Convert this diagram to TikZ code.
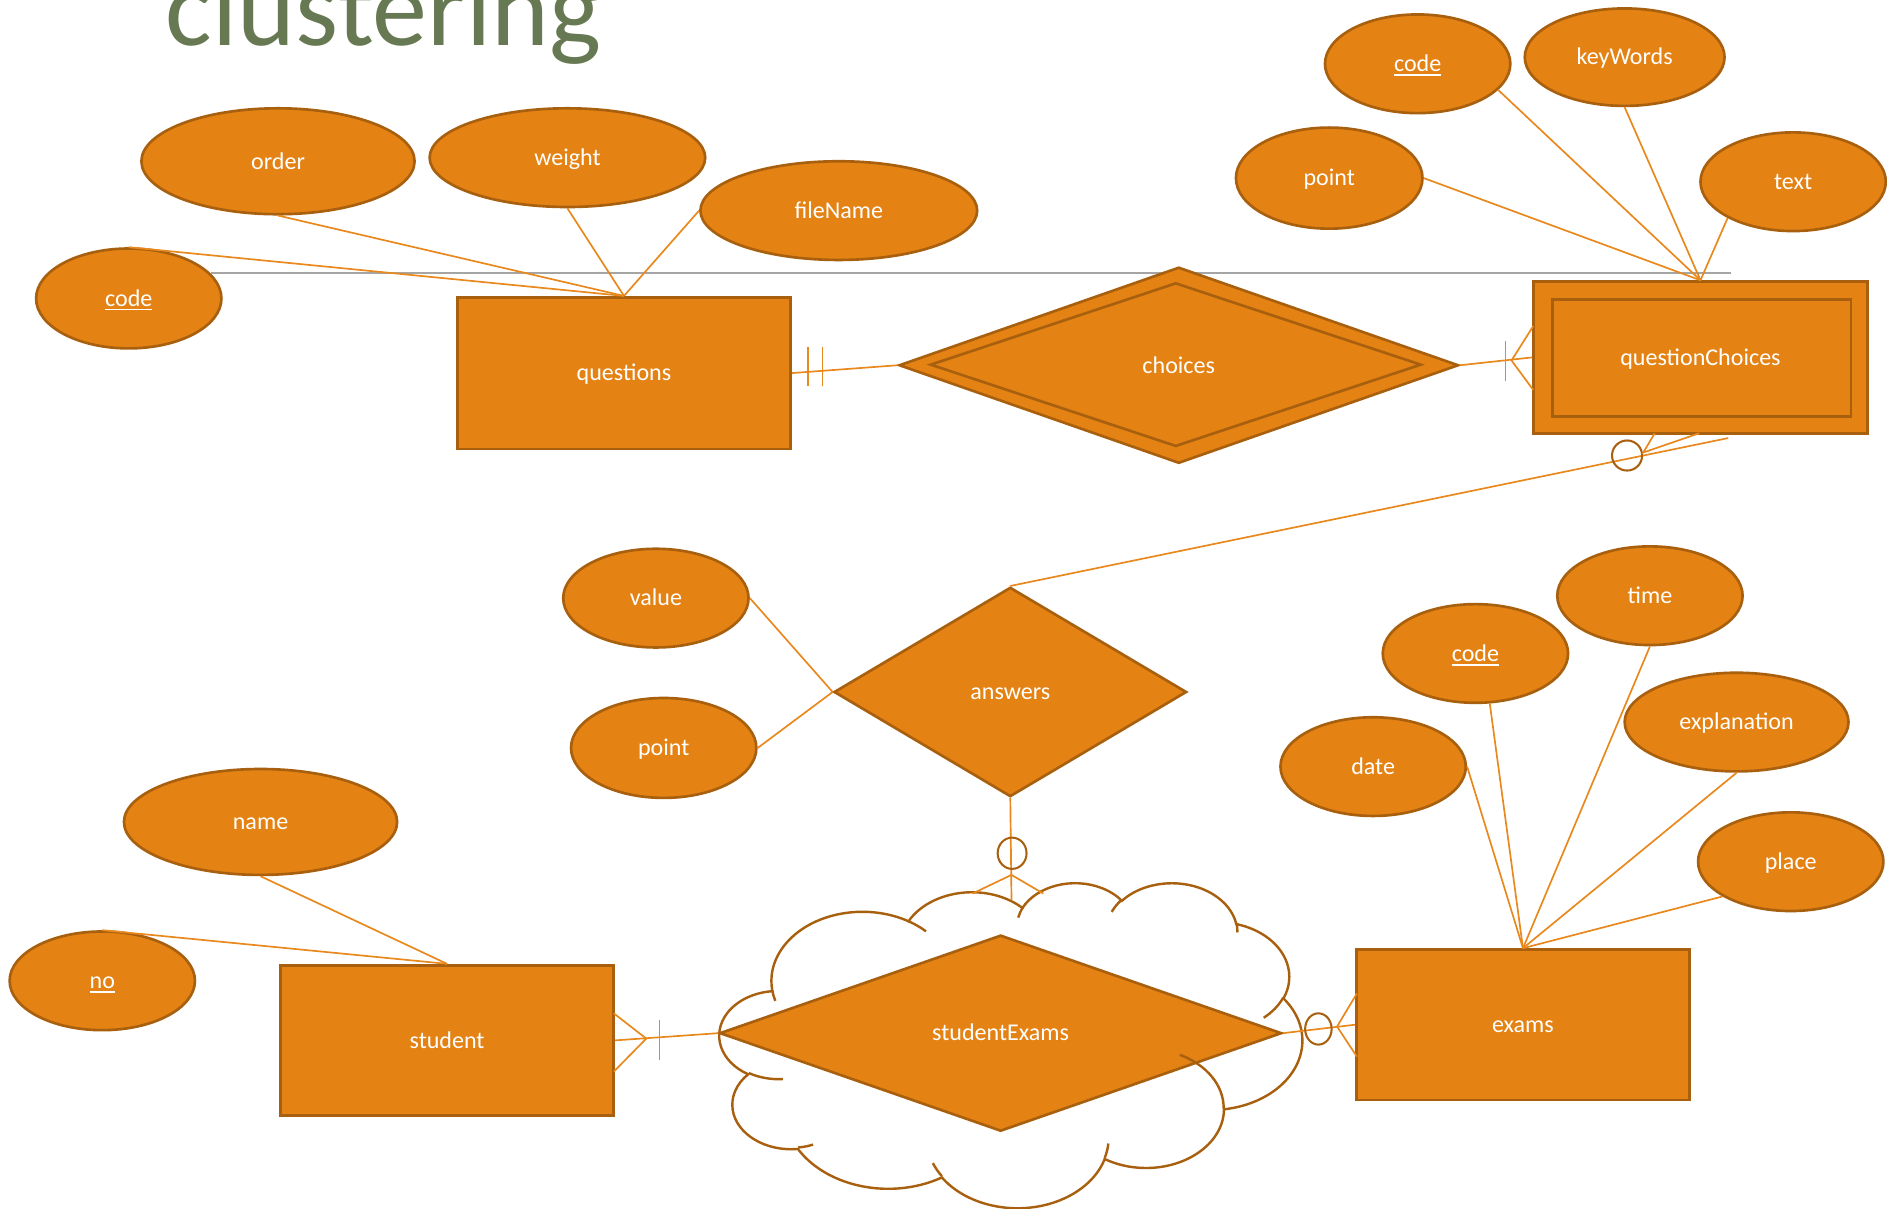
\documentclass[tikz,border=0pt]{standalone}
\usepackage{fontspec}
\setmainfont{Carlito}
\usetikzlibrary{shapes.geometric,calc}

\definecolor{erorange}{RGB}{228,130,19}
\definecolor{erbrown}{RGB}{168,96,14}
\definecolor{erline}{RGB}{233,136,28}
\definecolor{titlegreen}{RGB}{103,121,82}
\definecolor{rulegray}{RGB}{165,165,165}

% key attribute: text with a rule under it
\newcommand\keyattr[1]{\setbox0=\hbox{#1}\rlap{\smash{\rule[-3.5pt]{\wd0}{1.2pt}}}\box0}

% elliptical arc given by radii, start angle and sweep measured as
% directions from the centre; stores parametric start and sweep
\newcommand\cloudang[5]{%
  \pgfmathsetmacro\cldA{atan2((#2)*sin(#4),(#3)*cos(#4))}%
  \pgfmathsetmacro\cldB{atan2((#2)*sin((#4)+(#5)),(#3)*cos((#4)+(#5)))}%
  \pgfmathsetmacro\cldD{mod(\cldB-\cldA+720,360)}%
  \expandafter\let\csname cldst#1\endcsname\cldA
  \expandafter\let\csname cldsw#1\endcsname\cldD}

\begin{document}
\begin{tikzpicture}[x=1pt,y=-1pt,
  every node/.style={font=\fontsize{20}{24}\selectfont, text=white, inner sep=0pt},
  lbl/.style={text height=16pt, text depth=3pt},
  attr/.style={lbl, ellipse, draw=erbrown, fill=erorange, line width=2.2pt},
  entity/.style={lbl, rectangle, draw=erbrown, fill=erorange, line width=2.2pt},
  rel/.style={lbl, diamond, draw=erbrown, fill=erorange, line width=2.2pt},
  conn/.style={draw=erline, line width=1.4pt},
  ring/.style={ellipse, draw=erbrown, line width=1.7pt},
  cloudline/.style={draw=erbrown, line width=2pt},
  rulestroke/.style={draw=rulegray, line width=1.3pt}]

\useasboundingbox (0,0) rectangle (1568,1004);
\clip (0,0) rectangle (1568,1004);
\fill[white] (0,0) rectangle (1568,1004);

% heading
\node[anchor=base west, text=titlegreen, font=\fontsize{91.5}{100}\selectfont] (title) at (137.5,38) {clustering};

% thin rule
\draw[rulestroke] (175,227) -- (1438,227);

% ---------------- questions ----------------
\node[entity, minimum width=277pt, minimum height=126pt] (questions) at (518.5,310) {questions};
\node[attr, minimum width=227pt, minimum height=88pt] (order) at (231,134) {order};
\node[attr, minimum width=229pt, minimum height=82pt] (weight) at (471.5,131) {weight};
\node[attr, minimum width=230pt, minimum height=82pt] (fname) at (697,175) {fileName};
\node[attr, minimum width=154pt, minimum height=83pt] (qcode) at (107,248) {\keyattr{code}};

% ---------------- choices ----------------
\node[rel, minimum width=465pt, minimum height=163pt] (choices) at (979.5,303.5) {choices};
\node[rel, fill=none, minimum width=408pt, minimum height=136pt] (choicesin) at (977,303) {};

% ---------------- questionChoices ----------------
\node[entity, minimum width=278pt, minimum height=126pt] (qc) at (1413,297) {questionChoices};
\node[entity, fill=none, minimum width=248pt, minimum height=97pt] (qcin) at (1414,297.5) {};
\node[attr, minimum width=154pt, minimum height=82pt] (qccode) at (1178,53) {\keyattr{code}};
\node[attr, minimum width=166pt, minimum height=81pt] (keywords) at (1350,47.5) {keyWords};
\node[attr, minimum width=155pt, minimum height=84pt] (qcpoint) at (1104.5,148) {point};
\node[attr, minimum width=154pt, minimum height=82pt] (qctext) at (1490,151) {text};

% ---------------- answers ----------------
\node[rel, minimum width=293pt, minimum height=174pt] (answers) at (839.5,575) {answers};
\node[attr, minimum width=154pt, minimum height=82pt] (value) at (545,497) {value};
\node[attr, minimum width=154pt, minimum height=83pt] (apoint) at (551.5,621.5) {point};

% ---------------- exams ----------------
\node[entity, minimum width=277pt, minimum height=125pt] (exams) at (1265.5,851.5) {exams};
\node[attr, minimum width=154pt, minimum height=82pt] (ecode) at (1226,543) {\keyattr{code}};
\node[attr, minimum width=154pt, minimum height=82pt] (time) at (1371,495) {time};
\node[attr, minimum width=186pt, minimum height=82pt] (expl) at (1443,600) {explanation};
\node[attr, minimum width=154pt, minimum height=82pt] (date) at (1141,637) {date};
\node[attr, minimum width=154pt, minimum height=82pt] (place) at (1488,716) {place};

% ---------------- student ----------------
\node[entity, minimum width=277pt, minimum height=125pt] (student) at (371.5,864.5) {student};
\node[attr, minimum width=227pt, minimum height=88pt] (name) at (216.5,683) {name};
\node[attr, minimum width=154pt, minimum height=82pt] (no) at (85,815) {\keyattr{no}};

% ---------------- studentExams ----------------
\node[rel, minimum width=467pt, minimum height=163pt] (se) at (831.5,858.5) {studentExams};

% cloud outline around studentExams (43200-unit shape box scaled by 1/100)
\cloudang{A}{67.53}{91.90}{-190.4875}{123.7805}
\cloudang{B}{53.33}{72.67}{-144.1024}{89.9452}
\cloudang{C}{43.65}{59.45}{-145.8079}{99.7230}
\cloudang{D}{48.57}{65.95}{-130.9861}{117.2417}
\cloudang{E}{53.33}{72.73}{-78.7089}{109.0269}
\cloudang{F}{67.75}{92.20}{-46.2673}{130.2690}
\cloudang{G}{57.85}{78.67}{0.6250}{114.0333}
\cloudang{H}{67.52}{92.15}{22.4516}{115.1726}
\cloudang{I}{77.20}{105.43}{66.2426}{75.7110}
\cloudang{J}{43.60}{59.18}{-274.9421}{146.7356}
\cloudang{K}{43.45}{59.45}{-246.8285}{152.5189}
\cloudang{L}{43.45}{59.45}{86.7420}{26.4295}
\cloudang{M}{43.60}{59.18}{73.6105}{11.4475}
\cloudang{N}{67.52}{92.15}{137.6242}{14.0811}
\cloudang{O}{67.52}{92.15}{6.4533}{15.9984}
\cloudang{P}{57.85}{78.67}{-70.2924}{70.9174}
\cloudang{Q}{53.33}{72.73}{30.3180}{27.7515}
\cloudang{R}{48.57}{65.95}{-13.7443}{14.8589}
\cloudang{S}{48.57}{65.95}{-149.1815}{18.1954}
\cloudang{T}{43.65}{59.45}{-163.4943}{17.6864}
\cloudang{U}{67.53}{91.90}{-66.7070}{12.3194}
\cloudang{V}{67.53}{91.90}{157.6544}{11.8582}
\begin{scope}[shift={(598,733)}, x=1.12037pt, y=-0.625pt]
  \draw[cloudline] (39.00,143.70)
    arc[start angle=\cldstA, delta angle=\cldswA, x radius=67.53, y radius=91.90]
    arc[start angle=\cldstB, delta angle=\cldswB, x radius=53.33, y radius=72.67]
    arc[start angle=\cldstC, delta angle=\cldswC, x radius=43.65, y radius=59.45]
    arc[start angle=\cldstD, delta angle=\cldswD, x radius=48.57, y radius=65.95]
    arc[start angle=\cldstE, delta angle=\cldswE, x radius=53.33, y radius=72.73]
    arc[start angle=\cldstF, delta angle=\cldswF, x radius=67.75, y radius=92.20]
    arc[start angle=\cldstG, delta angle=\cldswG, x radius=57.85, y radius=78.67]
    arc[start angle=\cldstH, delta angle=\cldswH, x radius=67.52, y radius=92.15]
    arc[start angle=\cldstI, delta angle=\cldswI, x radius=77.20, y radius=105.43]
    arc[start angle=\cldstJ, delta angle=\cldswJ, x radius=43.60, y radius=59.18]
    arc[start angle=\cldstK, delta angle=\cldswK, x radius=43.45, y radius=59.45]
    -- cycle;
  \draw[cloudline]
    (46.93,261.77) arc[start angle=\cldstL, delta angle=\cldswL, x radius=43.45, y radius=59.45]
    (69.28,348.99) arc[start angle=\cldstM, delta angle=\cldswM, x radius=43.60, y radius=59.18]
    (164.78,390.90) arc[start angle=\cldstN, delta angle=\cldswN, x radius=67.52, y radius=92.15]
    (288.27,347.51) arc[start angle=\cldstO, delta angle=\cldswO, x radius=67.52, y radius=92.15]
    (341.29,229.54) arc[start angle=\cldstP, delta angle=\cldswP, x radius=57.85, y radius=78.67]
    (417.98,153.54) arc[start angle=\cldstQ, delta angle=\cldswQ, x radius=53.33, y radius=72.73]
    (383.24,54.26) arc[start angle=\cldstR, delta angle=\cldswR, x radius=48.57, y radius=65.95]
    (290.78,39.52) arc[start angle=\cldstS, delta angle=\cldswS, x radius=48.57, y radius=65.95]
    (221.41,47.20) arc[start angle=\cldstT, delta angle=\cldswT, x radius=43.65, y radius=59.45]
    (140.00,51.92) arc[start angle=\cldstU, delta angle=\cldswU, x radius=67.53, y radius=91.90]
    (41.27,157.89) arc[start angle=\cldstV, delta angle=\cldswV, x radius=67.53, y radius=91.90];
\end{scope}

% ---------------- attribute links ----------------
\draw[conn] (qcode.north) -- (questions.north);
\draw[conn] (order.south) -- (questions.north);
\draw[conn] (weight.south) -- (questions.north);
\draw[conn] (fname.west) -- (questions.north);

\draw[conn] (qccode.-18) -- (qc.north);
\draw[conn] (keywords.south) -- (qc.north);
\draw[conn] (qcpoint.east) -- (qc.north);
\draw[conn] (qctext.-151) -- (qc.north);

\draw[conn] (value.east) -- (answers.west);
\draw[conn] (apoint.east) -- (answers.west);

\draw[conn] (ecode.-74) -- (exams.north);
\draw[conn] (time.south) -- (exams.north);
\draw[conn] (expl.south) -- (exams.north);
\draw[conn] (date.east) -- (exams.north);
\draw[conn] (place.-153) -- (exams.north);

\draw[conn] (name.south) -- (student.north);
\draw[conn] (no.north) -- (student.north);

% ---------------- relationship links ----------------
% questions || -- choices
\draw[conn] (questions.east) -- (choices.west);
\draw[conn] (671.5,288) -- (671.5,320.5) (683.5,288) -- (683.5,320.5);

% choices -- |< questionChoices
\draw[conn] (choices.east) -- (qc.west);
\draw[conn] (1251,283) -- (1251,317);
\draw[conn] (1274,271) -- (1256,299.5) -- (1274,324);

% answers -- o< questionChoices
\coordinate (qcend) at (1436,364);
\draw[conn] (answers.north) -- (qcend);
\node[ring, minimum width=25pt, minimum height=25pt] (ringqc) at (1352,378.5) {};
\draw[conn] (1375,360) -- (1365.5,376) -- (1412,360);

% answers -- o< studentExams
\coordinate (seup) at (840.5,748);
\draw[conn] (answers.south) -- (seup);
\node[ring, minimum width=24pt, minimum height=26pt] (ringse) at (841,709) {};
\draw[conn] (808,742.5) -- (840.5,727) -- (867,742.5);

% student >| -- studentExams
\draw[conn] (student.east) -- (se.west);
\draw[conn] (510,842) -- (537,863) -- (510,890.5);
\draw[conn] (548,847.5) -- (548,881);

% studentExams -- o< exams
\draw[conn] (se.east) -- (exams.west);
\node[ring, minimum width=22pt, minimum height=26pt] (ringex) at (1095.5,855) {};
\draw[conn] (1127.5,825.5) -- (1111,853) -- (1127.5,878);

\end{tikzpicture}
\end{document}
